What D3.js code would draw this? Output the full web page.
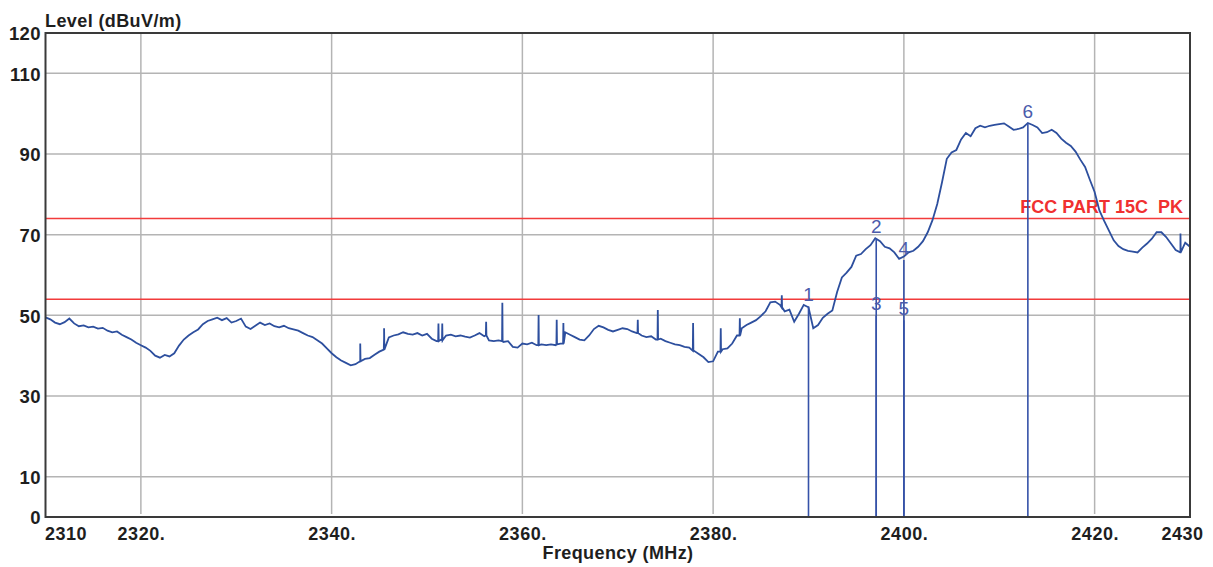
<!DOCTYPE html>
<html>
<head>
<meta charset="utf-8">
<script src="https://cdn.jsdelivr.net/npm/d3@7/dist/d3.min.js"></script>
<style>
  html, body { margin: 0; padding: 0; background: #fff; }
  svg { display: block; font-family: "Liberation Sans", Arial, sans-serif; }
</style>
</head>
<body>
<svg id="chart" width="1213" height="567"></svg>
<script>
// ---------------- data ----------------
const startFreq = 2310;      // MHz
const stepFreq = 0.5;        // MHz between trace samples
const traceLevels = [
  49.5,49.0,48.2,47.8,48.3,49.2,48.0,47.3,47.5,47.0,
  47.2,46.7,46.9,46.2,45.8,46.0,45.2,44.6,44.0,43.2,
  42.6,42.0,41.2,40.0,39.5,40.2,39.8,40.6,42.5,44.0,
  45.0,45.8,46.5,47.8,48.6,49.0,49.4,48.8,49.3,48.2,
  48.6,49.2,47.2,46.6,47.4,48.2,47.6,48.0,47.3,47.0,
  47.4,46.8,46.5,46.2,45.6,45.0,44.6,43.8,43.0,41.8,
  40.6,39.6,38.8,38.2,37.6,37.9,38.6,39.2,39.4,40.2,
  41.0,44.5,44.5,45.0,45.3,45.8,45.4,45.2,45.6,45.0,
  45.4,44.2,43.6,44.0,45.0,45.2,44.8,45.0,44.7,44.5,
  45.0,45.6,44.8,43.8,43.6,43.8,43.4,43.6,42.2,42.0,
  43.0,42.8,43.2,42.6,42.8,42.6,42.8,42.6,43.0,45.8,
  45.2,44.6,44.0,43.8,45.0,46.6,47.4,47.0,46.4,46.0,
  46.4,46.8,46.6,46.0,45.6,45.0,44.6,44.8,44.0,44.2,
  43.6,43.2,42.8,42.6,42.2,42.0,41.2,40.4,39.6,38.4,
  38.6,41.0,41.6,41.8,43.0,45.0,46.8,47.6,48.2,48.8,
  49.8,51.0,53.2,53.4,52.6,51.0,51.4,48.4,50.4,52.6,
  52.0,46.8,47.6,49.4,50.4,51.2,55.8,59.4,60.6,62.0,
  64.8,65.2,66.4,67.4,69.1,68.4,67.0,66.6,65.6,64.0,
  64.6,65.6,66.0,67.0,68.4,70.6,73.6,77.6,83.0,88.8,
  90.4,91.0,93.6,95.2,94.4,96.4,97.0,96.6,97.0,97.2,
  97.4,97.6,96.8,96.0,96.2,96.6,97.7,97.2,96.6,95.2,
  95.4,96.0,95.2,93.8,92.8,92.0,90.6,88.6,86.8,83.6,
  80.6,76.0,73.4,71.0,68.6,67.2,66.4,66.0,65.8,65.6,
  66.8,67.8,69.0,70.6,70.6,69.4,67.8,66.2,65.6,68.0,
  67.0
];
// narrow spurs on the trace (frequency, floor level, peak level)
const spikeFreqs = [2343.0,2345.5,2351.2,2351.6,2356.2,2357.9,2361.7,2363.6,2364.3,2372.1,2374.2,2377.9,2380.8,2382.8,2387.2,2429.0];
const spikeBase  = [38.6,41.5,43.6,43.8,45.0,43.6,42.6,42.8,43.0,45.6,44.0,41.2,41.0,45.0,52.0,65.6];
const spikePeak  = [43.0,46.8,48.0,48.0,48.4,53.1,50.1,48.9,48.1,48.9,51.3,48.1,46.8,49.3,55.0,70.3];

const limitLines = [74, 54];
const limitLabel = "FCC PART 15C  PK";

const markerIds    = ["1","2","3","4","5","6"];
const markerFreqs  = [2390.0, 2397.1, 2397.1, 2400.0, 2400.0, 2413.0];
const markerLevels = [52.2, 69.2, 50.0, 63.7, 48.8, 97.7];

const yTicks = [0,10,30,50,70,90,110,120];
const yGrid  = [10,30,50,70,90,110];
const xTicks = [2310,2320,2340,2360,2380,2400,2420,2430];
const xTickLabels = ["2310","2320.","2340.","2360.","2380.","2400.","2420.","2430"];
const xGrid  = [2320,2340,2360,2380,2400,2420];

// ---------------- layout ----------------
const svg = d3.select("#chart");
const L = 45.5, R = 1190, T = 33, B = 517;
const x = d3.scaleLinear().domain([2310, 2430]).range([L, R]);
const y = d3.scaleLinear().domain([0, 120]).range([B, T]);

// build trace points
let pts = traceLevels.map((v, i) => ({f: startFreq + i * stepFreq, v: v, o: 0}));
spikeFreqs.forEach((f, i) => {
  pts.push({f: f - 0.03, v: spikeBase[i], o: 1});
  pts.push({f: f,        v: spikePeak[i], o: 2});
  pts.push({f: f + 0.03, v: spikeBase[i], o: 3});
});
pts.sort((a, b) => a.f - b.f || a.o - b.o);

// grid
svg.append("g").selectAll("line").data(yGrid).join("line")
  .attr("x1", L).attr("x2", R)
  .attr("y1", d => y(d)).attr("y2", d => y(d))
  .attr("stroke", "#b4b4b4").attr("stroke-width", 1.5);
svg.append("g").selectAll("line").data(xGrid).join("line")
  .attr("x1", d => x(d)).attr("x2", d => x(d))
  .attr("y1", T).attr("y2", B - 3)
  .attr("stroke", "#b4b4b4").attr("stroke-width", 1.5);

// limit lines
svg.append("g").selectAll("line").data(limitLines).join("line")
  .attr("x1", L).attr("x2", R)
  .attr("y1", d => y(d)).attr("y2", d => y(d))
  .attr("stroke", "#f23b3b").attr("stroke-width", 1.6);

svg.append("text")
  .attr("x", 1183).attr("y", y(limitLines[0]) - 6)
  .attr("text-anchor", "end")
  .style("white-space", "pre")
  .attr("font-size", 18).attr("font-weight", "bold")
  .attr("fill", "#f03030")
  .text(limitLabel);

// trace
const line = d3.line().x(d => x(d.f)).y(d => y(d.v));
svg.append("path").datum(pts)
  .attr("d", line)
  .attr("fill", "none")
  .attr("stroke", "#2d4f9e")
  .attr("stroke-width", 1.8)
  .attr("stroke-linejoin", "miter");

// markers
const mk = markerIds.map((id, i) => ({id, f: markerFreqs[i], v: markerLevels[i]}));
svg.append("g").selectAll("line").data(mk).join("line")
  .attr("x1", d => x(d.f)).attr("x2", d => x(d.f))
  .attr("y1", d => y(d.v)).attr("y2", B)
  .attr("stroke", "#3552a8").attr("stroke-width", 1.6);
svg.append("g").selectAll("text").data(mk).join("text")
  .attr("x", d => x(d.f)).attr("y", d => y(d.v) - 5)
  .attr("text-anchor", "middle")
  .attr("font-size", 19)
  .attr("fill", "#4b5bab")
  .text(d => d.id);

// frame
svg.append("rect")
  .attr("x", L).attr("y", T).attr("width", R - L).attr("height", B - T)
  .attr("fill", "none").attr("stroke", "#3a3a3a").attr("stroke-width", 2);

// y axis labels
const yAxis = d3.axisLeft(y).tickValues(yTicks).tickSize(0).tickPadding(4).tickFormat(d3.format("d"));
const gy = svg.append("g").attr("transform", `translate(${L - 0.5},0)`).call(yAxis);
gy.select(".domain").remove();
gy.selectAll("text")
  .attr("font-family", "Liberation Sans, Arial, sans-serif")
  .attr("font-size", 18.5).attr("font-weight", "bold")
  .attr("fill", "#1e1e1e").attr("dy", "0.36em")
  .attr("letter-spacing", 0.4);

// x axis labels
const xAxis = d3.axisBottom(x).tickValues(xTicks).tickSize(0).tickPadding(6)
  .tickFormat((d, i) => xTickLabels[i]);
const gx = svg.append("g").attr("transform", `translate(0,${B})`).call(xAxis);
gx.select(".domain").remove();
gx.selectAll("text")
  .attr("font-family", "Liberation Sans, Arial, sans-serif")
  .attr("font-size", 18).attr("font-weight", "bold")
  .attr("fill", "#1e1e1e").attr("dy", "0.95em")
  .attr("letter-spacing", 0.5)
  .attr("text-anchor", (d, i) => i === 0 ? "start" : (i === xTicks.length - 1 ? "end" : "middle"))
  .attr("dx", (d, i) => i === 0 ? -1 : (i === xTicks.length - 1 ? 13 : 0));

// titles
svg.append("text")
  .attr("x", 45).attr("y", 27)
  .attr("font-size", 18).attr("font-weight", "bold")
  .attr("letter-spacing", 0.4)
  .attr("fill", "#1e1e1e")
  .text("Level (dBuV/m)");
svg.append("text")
  .attr("x", 618).attr("y", 559)
  .attr("text-anchor", "middle")
  .attr("font-size", 18).attr("font-weight", "bold")
  .attr("letter-spacing", 0.4)
  .attr("fill", "#1e1e1e")
  .text("Frequency (MHz)");
</script>
</body>
</html>
